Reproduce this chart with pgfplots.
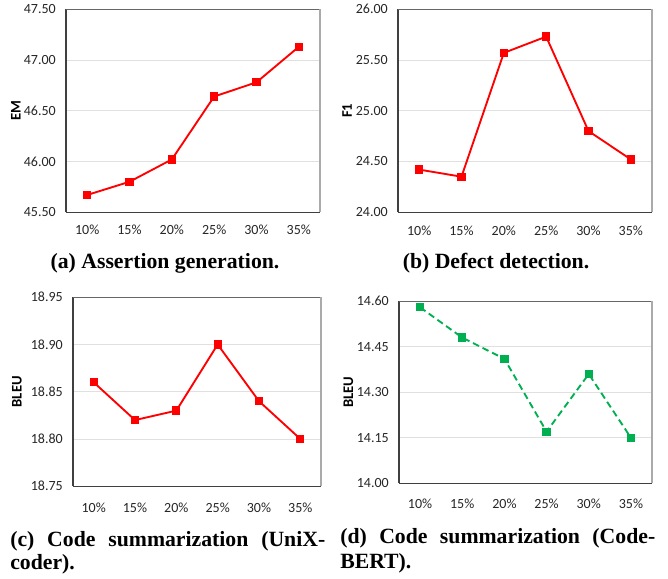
\documentclass[border=0pt]{standalone}
\usepackage{fontspec}
\usepackage{pgfplots}
\pgfplotsset{compat=1.18}
\setmainfont{Liberation Serif}
\newfontfamily\calfont{Carlito}
\definecolor{gridc}{RGB}{224,224,224}
\definecolor{axc}{RGB}{64,64,64}
\definecolor{rightc}{RGB}{170,170,170}
\definecolor{lred}{RGB}{255,0,0}
\definecolor{lgreen}{RGB}{0,176,80}
\pgfplotsset{
  myax/.style={
    scale only axis,
    anchor=south west,
    xmin=-0.5, xmax=5.5,
    xtick={0,1,2,3,4,5},
    xticklabels={10\%,15\%,20\%,25\%,30\%,35\%},
    ymajorgrids,
    grid style={color=gridc, line width=0.6pt},
    major tick length=0pt,
    axis line style={draw=none},
    tick label style={font=\fontsize{10.5}{12}\calfont, text=black!85},
    /pgf/number format/assume math mode=true,
    /pgf/number format/.cd, fixed, fixed zerofill, precision=2, /pgfplots/.cd,
    yticklabel style={inner xsep=0pt, xshift=-7.5pt},
    ylabel style={font=\fontsize{11}{12}\calfont\bfseries, at={(axis description cs:-0.2,0.5)}, anchor=center},
    clip=false,
  },
}
\newcommand{\drawframe}{%
  \draw[axc, line width=0.8pt] (rel axis cs:0,0) -- (rel axis cs:1,0);
  \draw[axc, line width=0.8pt] (rel axis cs:0,0) -- (rel axis cs:0,1);
  \draw[axc!80, line width=0.8pt] (rel axis cs:0,1) -- (rel axis cs:1,1);
  \draw[rightc, line width=1.6pt] (rel axis cs:1,0) -- (rel axis cs:1,1);
}
\newcommand{\capfont}{\fontsize{16.3}{19}\selectfont\bfseries}
\begin{document}
\begin{tikzpicture}
\path (0,0) rectangle (501pt,432.75pt);
% (a)
\begin{axis}[myax, at={(49.5pt,274.5pt)}, width=190.5pt, height=152.25pt,
  ymin=45.5, ymax=47.5, ytick={45.5,46,46.5,47,47.5},
  xticklabel style={anchor=base, yshift=-16.5pt},
  ylabel={EM}, ylabel style={at={(axis description cs:-0.197,0.5)}}]
\drawframe
\addplot[lred, line width=1.4pt, mark=square*, mark size=2.4pt, mark options={solid}] coordinates {(0,45.67) (1,45.80) (2,46.02) (3,46.64) (4,46.78) (5,47.13)};
\end{axis}
% (b)
\begin{axis}[myax, at={(298.5pt,274.5pt)}, width=190.5pt, height=152.25pt,
  ymin=24, ymax=26, ytick={24,24.5,25,25.5,26},
  xticklabel style={anchor=base, yshift=-17.25pt},
  ylabel={F1}, ylabel style={at={(axis description cs:-0.2,0.5)}}]
\drawframe
\addplot[lred, line width=1.4pt, mark=square*, mark size=2.4pt, mark options={solid}] coordinates {(0,24.42) (1,24.35) (2,25.57) (3,25.73) (4,24.80) (5,24.52)};
\end{axis}
% (c)
\begin{axis}[myax, at={(54.75pt,69pt)}, width=186pt, height=141.75pt,
  ymin=18.75, ymax=18.95, ytick={18.75,18.8,18.85,18.9,18.95},
  xticklabel style={anchor=base, yshift=-19.5pt},
  ylabel={BLEU}, ylabel style={at={(axis description cs:-0.226,0.5)}}]
\drawframe
\addplot[lred, line width=1.4pt, mark=square*, mark size=2.4pt, mark options={solid}] coordinates {(0,18.86) (1,18.82) (2,18.83) (3,18.90) (4,18.84) (5,18.80)};
\end{axis}
% (d)
\begin{axis}[myax, at={(299.25pt,71.25pt)}, width=189.75pt, height=136.5pt,
  ymin=14, ymax=14.6, ytick={14,14.15,14.3,14.45,14.6},
  xticklabel style={anchor=base, yshift=-18.75pt},
  ylabel={BLEU}, ylabel style={at={(axis description cs:-0.2,0.5)}}]
\drawframe
\addplot[lgreen, line width=1.4pt, dashed, dash pattern=on 5pt off 3pt, mark=square*, mark size=2.4pt, mark options={solid}] coordinates {(0,14.58) (1,14.48) (2,14.41) (3,14.17) (4,14.36) (5,14.15)};
\end{axis}
% captions
\node[anchor=base, inner sep=0pt, font=\capfont] at (123.75pt,232.5pt) {(a) Assertion generation.};
\node[anchor=base, inner sep=0pt, font=\capfont] at (372pt,232.5pt) {(b) Defect detection.};
\node[anchor=base west, inner sep=0pt, font=\capfont] at (7.5pt,24pt) {\hbox to 236.25pt{(c)\hfill Code\hfill summarization\hfill (UniX-}};
\node[anchor=base west, inner sep=0pt, font=\capfont] at (7.5pt,6.75pt) {coder).};
\node[anchor=base west, inner sep=0pt, font=\capfont] at (255pt,26.25pt) {\hbox to 236.25pt{(d)\hfill Code\hfill summarization\hfill (Code-}};
\node[anchor=base west, inner sep=0pt, font=\capfont] at (255pt,7.5pt) {BERT).};
\end{tikzpicture}
\end{document}
